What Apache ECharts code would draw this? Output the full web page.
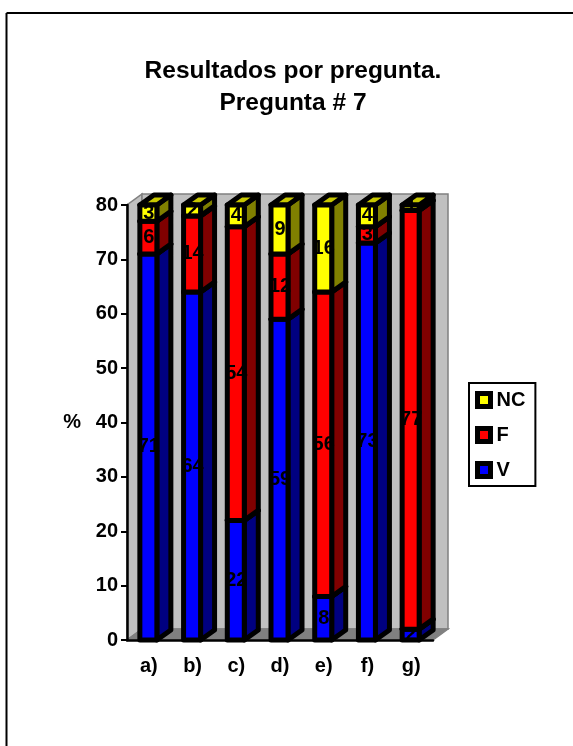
<!DOCTYPE html>
<html><head><meta charset="utf-8">
<style>html,body{margin:0;padding:0;background:#fff}#c{width:573px;height:746px}</style>
<script src="https://cdn.jsdelivr.net/npm/echarts@6/dist/echarts.min.js"></script>
</head><body><div id="c"></div>
<script>
const categories = ['a)','b)','c)','d)','e)','f)','g)'];
const V  = [71,64,22,59,8,73,2];
const F  = [6,14,54,12,56,3,77];
const NC = [3,2,4,9,16,4,1];
const FONT = '"Liberation Sans", Arial, sans-serif';
const DX = 14, DY = 10, BAR = 17, LW = 5;
const WALL_DX = 15, WALL_DY = 11;

const chart = echarts.init(document.getElementById('c'), null, {renderer:'canvas'});

function box(name, front, side, top, values, starts, z){
  return {
    name, type:'custom', coordinateSystem:'cartesian2d', z,
    itemStyle:{color:front, borderColor:'#000', borderWidth:5},
    encode:{x:0,y:[1,2]},
    data: categories.map((c,i)=>[c, starts[i], starts[i]+values[i], values[i]]),
    renderItem(params, api){
      const p0 = api.coord([api.value(0), api.value(1)]);
      const p1 = api.coord([api.value(0), api.value(2)]);
      const xL = p0[0]-BAR/2-0.5, xR = xL+BAR, yB = p0[1], yT = p1[1];
      const st = {stroke:'#000', lineWidth:LW, lineJoin:'round'};
      const poly = (pts, fill)=>({type:'polygon', shape:{points:pts}, style:{fill, ...st}});
      return {type:'group', children:[
        poly([[xR,yB],[xR+DX,yB-DY],[xR+DX,yT-DY],[xR,yT]], side),
        poly([[xL,yT],[xR,yT],[xR+DX,yT-DY],[xL+DX,yT-DY]], top),
        poly([[xL,yB],[xR,yB],[xR,yT],[xL,yT]], front),
        {type:'text', z2:10, style:{text:String(api.value(3)), x:(xL+xR)/2+0.5, y:(yB+yT)/2,
          align:'center', verticalAlign:'middle', fill:'#000', font:'bold 20px '+FONT}}
      ]};
    }
  };
}
const zero = categories.map(()=>0);
const sum = (a,b)=>a.map((v,i)=>v+b[i]);

const wall = {
  type:'custom', z:1, silent:true, legendHoverLink:false,
  data:[[0,0]], encode:{x:0,y:1},
  renderItem(params, api){
    const cs = params.coordSys;
    const x0=cs.x, x1=cs.x+cs.width, yB=cs.y+cs.height, yT=cs.y;
    const edge={stroke:'#808080', lineWidth:1.5};
    return {type:'group', children:[
      {type:'polygon', shape:{points:[[x0,yB],[x0+WALL_DX,yB-WALL_DY],[x0+WALL_DX,yT-WALL_DY],[x0,yT]]}, style:{fill:'#c0c0c0',...edge}},
      {type:'polygon', shape:{points:[[x0+WALL_DX,yB-WALL_DY],[x1+WALL_DX,yB-WALL_DY],[x1+WALL_DX,yT-WALL_DY],[x0+WALL_DX,yT-WALL_DY]]}, style:{fill:'#c0c0c0',...edge}},
      {type:'polygon', shape:{points:[[x0,yB],[x1,yB],[x1+WALL_DX,yB-WALL_DY],[x0+WALL_DX,yB-WALL_DY]]}, style:{fill:'#808080',...edge}}
    ]};
  }
};

chart.setOption({
  animation:false,
  backgroundColor:'#fff',
  title:{text:'Resultados por pregunta.\nPregunta # 7', left:288, top:50, textAlign:'center',
    textStyle:{fontFamily:FONT, fontWeight:'bold', fontSize:24.5, color:'#000', lineHeight:32}},
  grid:{left:127, right:140, top:205, bottom:106, containLabel:false},
  xAxis:{type:'category', data:categories, boundaryGap:true,
    axisLine:{onZero:false, lineStyle:{color:'#000',width:2.5}},
    axisTick:{alignWithLabel:false, length:6, lineStyle:{color:'#000',width:2}},
    axisLabel:{fontFamily:FONT, fontWeight:'bold', fontSize:20, color:'#000', margin:16},
    splitLine:{show:false}, z:6},
  yAxis:{type:'value', min:0, max:80, interval:10, name:'%', nameLocation:'middle', nameRotate:0, nameGap:46,
    nameTextStyle:{fontFamily:FONT, fontWeight:'bold', fontSize:20, color:'#000'},
    axisLine:{show:true, lineStyle:{color:'#000',width:2.5}},
    axisTick:{show:true, length:6, lineStyle:{color:'#000',width:2}},
    axisLabel:{fontFamily:FONT, fontWeight:'bold', fontSize:20, color:'#000', margin:9},
    splitLine:{show:false}, z:6},
  legend:{orient:'vertical', left:469, top:383,
    data:['NC','F','V'], itemWidth:13, itemHeight:13, itemGap:15,
    padding:[7,10,6,6], icon:'rect', backgroundColor:'#fff',
    borderColor:'#000', borderWidth:2, itemStyle:{borderColor:'#000',borderWidth:5},
    textStyle:{fontFamily:FONT, fontWeight:'bold', fontSize:20, color:'#000', padding:[0,0,0,1]}},
  graphic:[
    {type:'line', shape:{x1:6.5,y1:13,x2:573,y2:13}, style:{stroke:'#000',lineWidth:2}},
    {type:'line', shape:{x1:6.5,y1:13,x2:6.5,y2:746}, style:{stroke:'#000',lineWidth:2}}
  ],
  series:[
    wall,
    box('V','#0000ff','#000080','#00007f',V,zero,3),
    box('F','#ff0000','#800000','#7f0000',F,V,4),
    box('NC','#ffff00','#808000','#c8c800',NC,sum(V,F),5)
  ]
});
</script></body></html>
